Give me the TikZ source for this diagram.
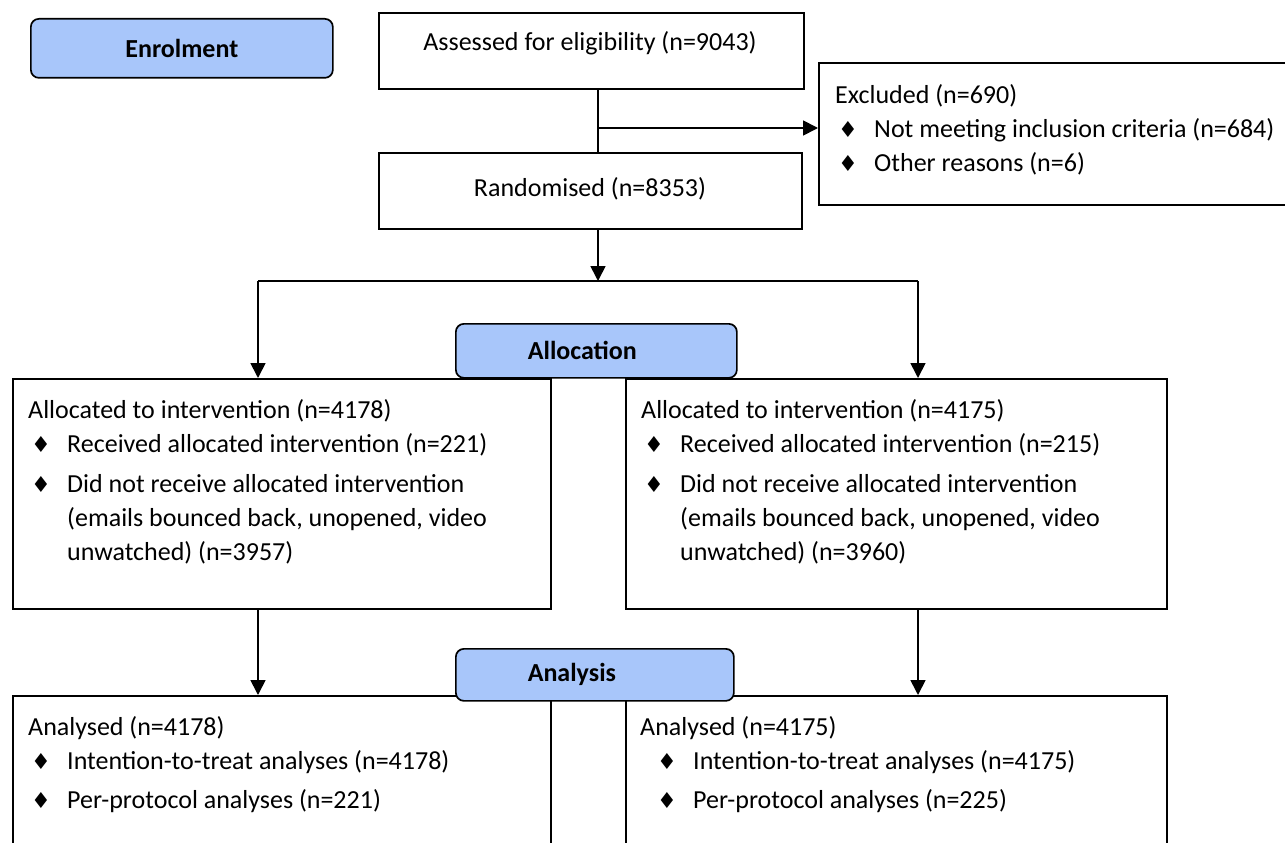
\documentclass[tikz,border=0pt]{standalone}
\usepackage{fontspec}
\setmainfont{Carlito}
\newfontfamily\dejavu{DejaVu Sans}
\usetikzlibrary{arrows.meta}

\definecolor{headblue}{RGB}{168,198,250}

% bullet with hanging indent, and indent for wrapped lines
\newcommand{\bul}{\makebox[39pt][l]{\hspace*{3pt}{\dejavu\fontsize{22}{22}\selectfont ♦}}}
\newcommand{\ind}{\hspace*{39pt}}

\tikzset{
  box/.style={draw, line width=1.7pt, rectangle, anchor=north west, inner sep=0pt},
  head/.style={draw, line width=1.7pt, rounded corners=8pt, fill=headblue,
    font=\fontsize{26}{34}\selectfont\bfseries, anchor=north west, inner sep=0pt},
  txt/.style={anchor=north west, align=left, inner sep=0pt},
  mid/.style={anchor=base, inner sep=0pt},
  conn/.style={line width=1.7pt},
  arr/.style={conn, -{Triangle[length=15pt,width=15pt]}}
}

\begin{document}
\begin{tikzpicture}[x=1pt, y=-1pt, font=\fontsize{26}{34}\selectfont]
\useasboundingbox (0,0) rectangle (1285,843);

% boxes
\node[box, minimum width=425pt, minimum height=76pt] (assess) at (378,12) {};
\node[box, minimum width=480pt, minimum height=142pt] (excl) at (818,62) {};
\node[box, minimum width=423pt, minimum height=76pt] (rand) at (378,152) {};
\node[box, minimum width=538pt, minimum height=230pt] (allocL) at (12,378) {};
\node[box, minimum width=541pt, minimum height=230pt] (allocR) at (625,378) {};
\node[box, minimum width=538pt, minimum height=200pt] (analL) at (12,695) {};
\node[box, minimum width=541pt, minimum height=200pt] (analR) at (625,695) {};

% texts
\node[mid] (assess-t) at (590,51) {Assessed for eligibility (n=9043)};
\node[mid] (rand-t) at (590,196) {Randomised (n=8353)};
\node[txt] (excl-t) at (835,84) {Excluded (n=690)\\
  \bul Not meeting inclusion criteria (n=684)\\
  \bul Other reasons (n=6)};
\node[txt] (allocL-t) at (28,399) {Allocated to intervention (n=4178)\\
  \bul Received allocated intervention (n=221)\\[6pt]
  \bul Did not receive allocated intervention\\
  \ind (emails bounced back, unopened, video\\
  \ind unwatched) (n=3957)};
\node[txt] (allocR-t) at (641,399) {Allocated to intervention (n=4175)\\
  \bul Received allocated intervention (n=215)\\[6pt]
  \bul Did not receive allocated intervention\\
  \ind (emails bounced back, unopened, video\\
  \ind unwatched) (n=3960)};
\node[txt] (analL-t) at (28,716) {Analysed (n=4178)\\
  \bul Intention-to-treat analyses (n=4178)\\[5pt]
  \bul Per-protocol analyses (n=221)};
\node[txt] (analR-t) at (640,716) {Analysed (n=4175)\\
  \hspace*{14pt}\bul Intention-to-treat analyses (n=4175)\\[5pt]
  \hspace*{14pt}\bul Per-protocol analyses (n=225)};

% connectors
\coordinate (split) at (598,128);
\coordinate (fork) at (598,281);
\coordinate (forkL) at (258,281);
\coordinate (forkR) at (918,281);
\draw[conn] (split |- assess.south) -- (split |- rand.north);
\draw[arr] (split) -- (split -| excl.west);
\draw[arr] (split |- rand.south) -- (fork);
\draw[conn] (forkL) -- (forkR);
\draw[arr] (forkL) -- (forkL |- allocL.north);
\draw[arr] (forkR) -- (forkR |- allocR.north);
\draw[arr] (forkL |- allocL.south) -- (forkL |- analL.north);
\draw[arr] (forkR |- allocR.south) -- (forkR |- analR.north);

% stage headers
\node[head, minimum width=302pt, minimum height=59pt] (enrol) at (30,18) {Enrolment};
\node[head, minimum width=281pt, minimum height=54pt] (alloc) at (455,323) {Allocation\hspace*{28pt}};
\node[head, minimum width=278pt, minimum height=52pt] (anal) at (455,648) {Analysis\hspace*{46pt}};
\end{tikzpicture}
\end{document}
